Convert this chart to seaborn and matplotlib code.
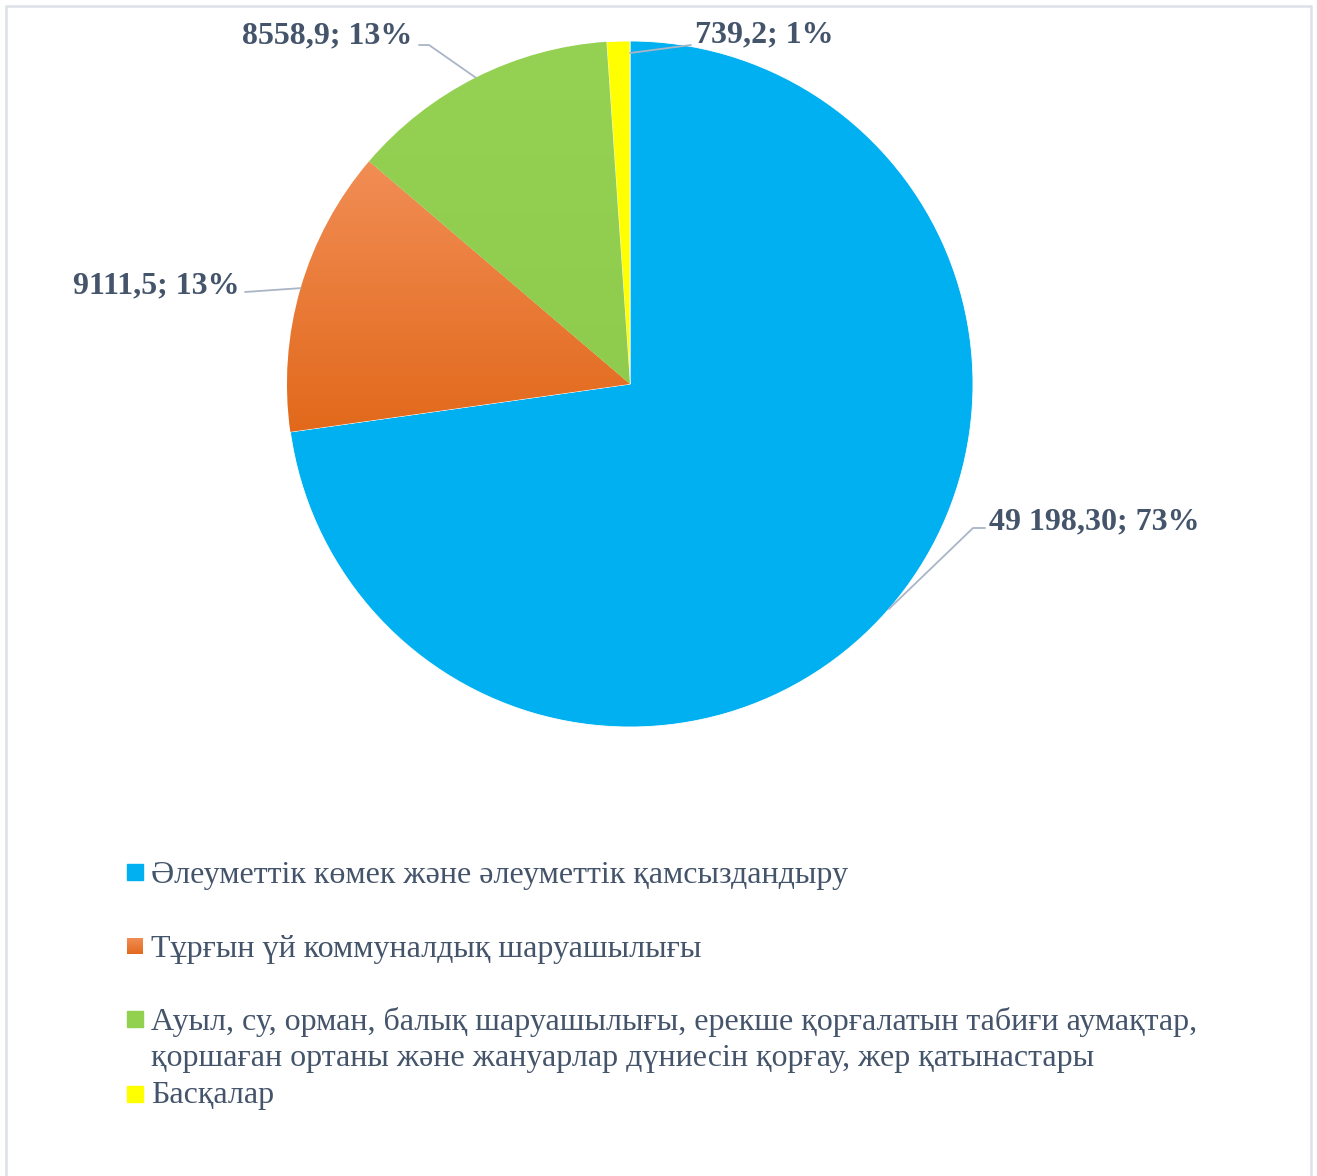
import numpy as np
import matplotlib
matplotlib.use("Agg")
import matplotlib.pyplot as plt
from matplotlib.patches import Rectangle
from matplotlib.colors import LinearSegmentedColormap
import seaborn as sns

# ---- data ----
categories = [
    "Әлеуметтік көмек және әлеуметтік қамсыздандыру",
    "Тұрғын үй коммуналдық шаруашылығы",
    "Ауыл, су, орман, балық шаруашылығы, ерекше қорғалатын табиғи аумақтар,\nқоршаған ортаны және жануарлар дүниесін қорғау, жер қатынастары",
    "Басқалар",
]
values = [49198.30, 9111.5, 8558.9, 739.2]
value_labels = ["49 198,30", "9111,5", "8558,9", "739,2"]
colors = ["#00B0F0", "#F07E2C", "#92D050", "#FFFF00"]

sns.set_theme(style="white")
plt.rcParams["font.family"] = ["Liberation Serif", "DejaVu Serif"]

W, H = 1317, 1176
fig = plt.figure(figsize=(W / 100, H / 100), dpi=100)
ax = fig.add_axes([0, 0, 1, 1])

def Y(py):
    return H - py

cx, cy, R = 630, 384, 343
wedges, _ = ax.pie(values, colors=colors, startangle=90, counterclock=False,
                   center=(cx, Y(cy)), radius=R, frame=True,
                   wedgeprops=dict(linewidth=0.6, edgecolor="white"))
ax.set_xlim(0, W)
ax.set_ylim(0, H)
ax.set_aspect("equal", adjustable="box")
ax.axis("off")

# gradient fills for orange and green wedges
grad_specs = {1: ("#F18D55", "#E2691B"), 2: ("#95D253", "#8FCB4C")}
for i, (ctop, cbot) in grad_specs.items():
    w = wedges[i]
    cmap = LinearSegmentedColormap.from_list("g%d" % i, [cbot, ctop])
    grad = np.linspace(0, 1, 256).reshape(-1, 1)
    bb = w.get_patch_transform().transform(w.get_path().vertices)
    x0, x1 = bb[:, 0].min(), bb[:, 0].max()
    y0, y1 = bb[:, 1].min(), bb[:, 1].max()
    im = ax.imshow(grad, cmap=cmap, extent=[x0, x1, y0, y1], origin="lower",
                   aspect="auto", zorder=w.get_zorder() + 0.1)
    im.set_clip_path(w)
ax.set_xlim(0, W)
ax.set_ylim(0, H)

total = sum(values)
pcts = [round(v / total * 100) for v in values]
texts = ["%s; %d%%" % (vl, p) for vl, p in zip(value_labels, pcts)]

lab_color = "#44546A"
line_color = "#A9B5C6"
layout = [
    dict(xy=(989, 529), ha="left", pts=[(973, 528), (985, 528)]),
    dict(xy=(240, 293), ha="right", pts=[(245, 292)]),
    dict(xy=(412, 43), ha="right", pts=[(429, 45), (419, 45)]),
    dict(xy=(695, 42), ha="left", pts=[(691, 45)]),
]
angles = []
start = 90.0
for v in values:
    span = v / total * 360
    angles.append(start - span / 2)
    start -= span
for i, (t, lay) in enumerate(zip(texts, layout)):
    a = np.deg2rad(angles[i])
    ex, ey = cx + R * np.cos(a), cy - R * np.sin(a)
    if i == 3:
        ex, ey = 630, 53
    xs = [ex] + [p[0] for p in lay["pts"]]
    ys = [ey] + [p[1] for p in lay["pts"]]
    ax.plot(xs, [Y(y) for y in ys], color=line_color, lw=1.3, zorder=5)
    ax.text(lay["xy"][0], Y(lay["xy"][1]), t, ha=lay["ha"], va="baseline",
            fontsize=23, fontweight="bold", color=lab_color, zorder=6)

# legend (manual rows)
leg_rows = [(864, 883), (938, 957), (1011, 1030), (1086, 1103)]
line_gap = 36
for i, (cat, (sq_top, base)) in enumerate(zip(categories, leg_rows)):
    if i == 1:
        ax.imshow(np.linspace(0, 1, 64).reshape(-1, 1),
                  cmap=LinearSegmentedColormap.from_list("lg", ["#E2691B", "#F18D55"]),
                  extent=[127, 143, Y(sq_top + 16), Y(sq_top)], origin="lower",
                  aspect="auto", zorder=6)
    else:
        ax.add_patch(Rectangle((127, Y(sq_top + 16)), 16, 16, color=colors[i], zorder=5))
    for j, line in enumerate(cat.split("\n")):
        ax.text(151, Y(base + j * line_gap), line, ha="left", va="baseline",
                fontsize=23, color=lab_color, zorder=6)
ax.set_xlim(0, W)
ax.set_ylim(0, H)

# chart border
ax.plot([6, 6, 1311, 1311], [Y(1176), Y(6), Y(6), Y(1176)], color="#DCE1E8", lw=1.8,
        zorder=1, solid_joinstyle="miter")

fig.savefig("out.png", dpi=100)
